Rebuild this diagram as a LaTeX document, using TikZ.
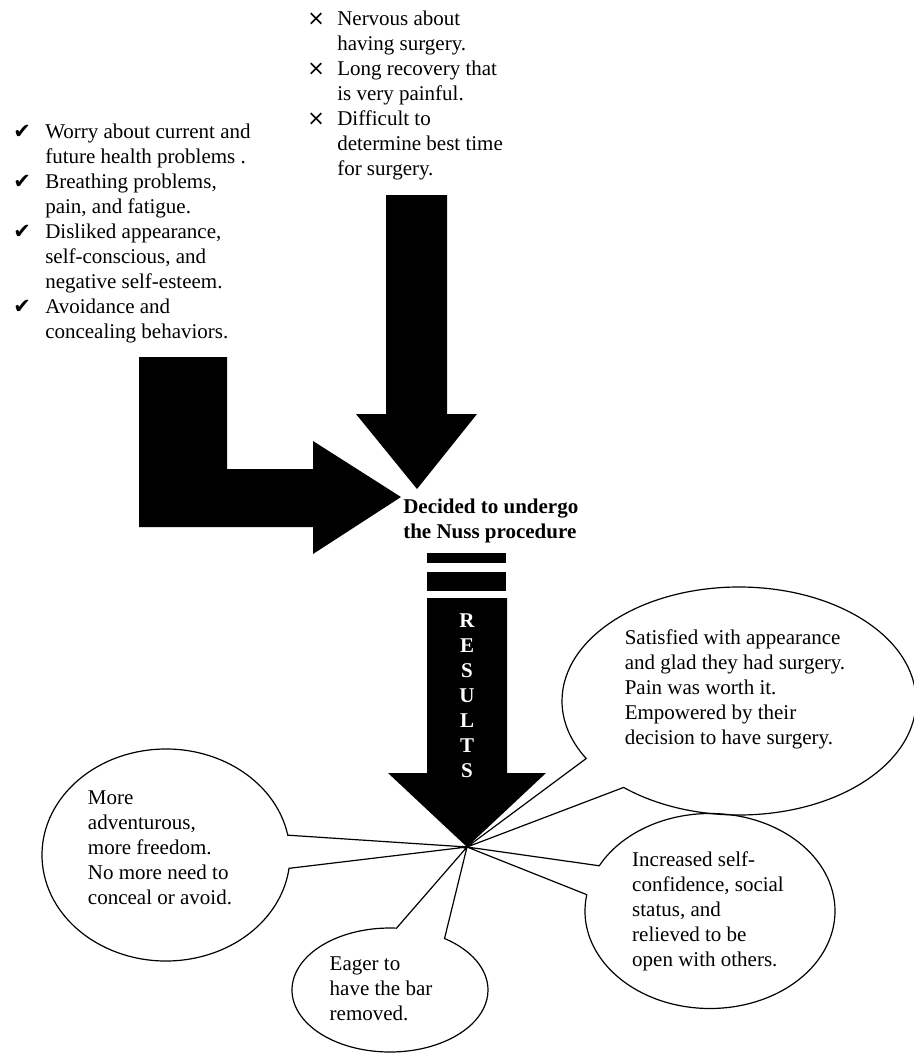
\documentclass[tikz,border=0pt]{standalone}
\usepackage{fontspec}
\setmainfont{Liberation Serif}
\newfontfamily\symfont{DejaVu Sans}
\usetikzlibrary{shapes.callouts}
\newcommand\bodysize{\fontsize{15.75}{18.75}\selectfont}
\newcommand\chk{{\symfont ✔}}
\newcommand\crs{{\symfont ×}}
\tikzset{
  blockarrow/.style={fill=black,draw=none},
  bubble/.style={ellipse callout,draw=black,line width=0.9pt,inner sep=0pt,callout absolute pointer={(tip)}},
  bubbletext/.style={inner sep=0pt,align=left,font=\bodysize},
  listtext/.style={inner sep=0pt,font=\bodysize,anchor=base west},
}

\begin{document}
\begin{tikzpicture}[x=0.75pt,y=-0.75pt]
\useasboundingbox (0,0) rectangle (914,1057);

% reasons against
\node[listtext] (cons) at (307,25) {\begin{tabular}[t]{@{}p{22.5pt}@{}l@{}}
\crs & Nervous about\\
     & having surgery.\\
\crs & Long recovery that\\
     & is very painful.\\
\crs & Difficult to\\
     & determine best time\\
     & for surgery.
\end{tabular}};

% reasons for
\node[listtext] (pros) at (13,138) {\begin{tabular}[t]{@{}p{24pt}@{}l@{}}
\chk & Worry about current and\\
     & future health problems .\\
\chk & Breathing problems,\\
     & pain, and fatigue.\\
\chk & Disliked appearance,\\
     & self-conscious, and\\
     & negative self-esteem.\\
\chk & Avoidance and\\
     & concealing behaviors.
\end{tabular}};

% block arrows
\fill[blockarrow] (386,195) -- (447,195) -- (447,414) -- (477,414) -- (417,489) -- (356,414) -- (386,414) -- cycle;
\fill[blockarrow] (139,357) -- (227,357) -- (227,469) -- (313,469) -- (313,441) -- (401,497) -- (313,554) -- (313,527) -- (139,527) -- cycle;

\node[font=\bodysize\bfseries,align=left,inner sep=0pt,anchor=north west] (decision) at (403,499) {Decided to undergo\\the Nuss procedure};

\fill[blockarrow] (427,553) rectangle (506,563);
\fill[blockarrow] (427,572) rectangle (506,591);
\fill[blockarrow] (427,598) -- (507,598) -- (507,773) -- (546,773) -- (467,847) -- (388,773) -- (427,773) -- cycle;
\coordinate (tip) at (467,847);
\node[font=\bodysize\bfseries,text=white,align=center,inner sep=0pt] (results) at (467,696) {R\\E\\S\\U\\L\\T\\S};

% outcomes
\node[bubble,minimum width=265.5pt,minimum height=171pt,callout pointer arc=19] (satisfied) at (739,701) {};
\node[bubbletext] (satisfiedtext) at ([shift={(-4,-12)}]satisfied.center)
  {Satisfied with appearance\\and glad they had surgery.\\Pain was worth it.\\Empowered by their\\decision to have surgery.};
\node[bubble,minimum width=186pt,minimum height=159pt,callout pointer arc=18] (freedom) at (166,855) {};
\node[bubbletext] (freedomtext) at ([shift={(-6,-7)}]freedom.center)
  {More\\adventurous,\\more freedom.\\No more need to\\conceal or avoid.};
\node[bubble,minimum width=187.5pt,minimum height=146.25pt,callout pointer arc=18] (confidence) at (710,911) {};
\node[bubbletext] (confidencetext) at ([shift={(-2,0)}]confidence.center)
  {Increased self-\\confidence, social\\status, and\\relieved to be\\open with others.};
\node[bubble,minimum width=147pt,minimum height=93pt,callout pointer arc=30] (bar) at (390,990) {};
\node[bubbletext] (bartext) at ([shift={(-9,-1)}]bar.center)
  {Eager to\\have the bar\\removed.};

\end{tikzpicture}
\end{document}
